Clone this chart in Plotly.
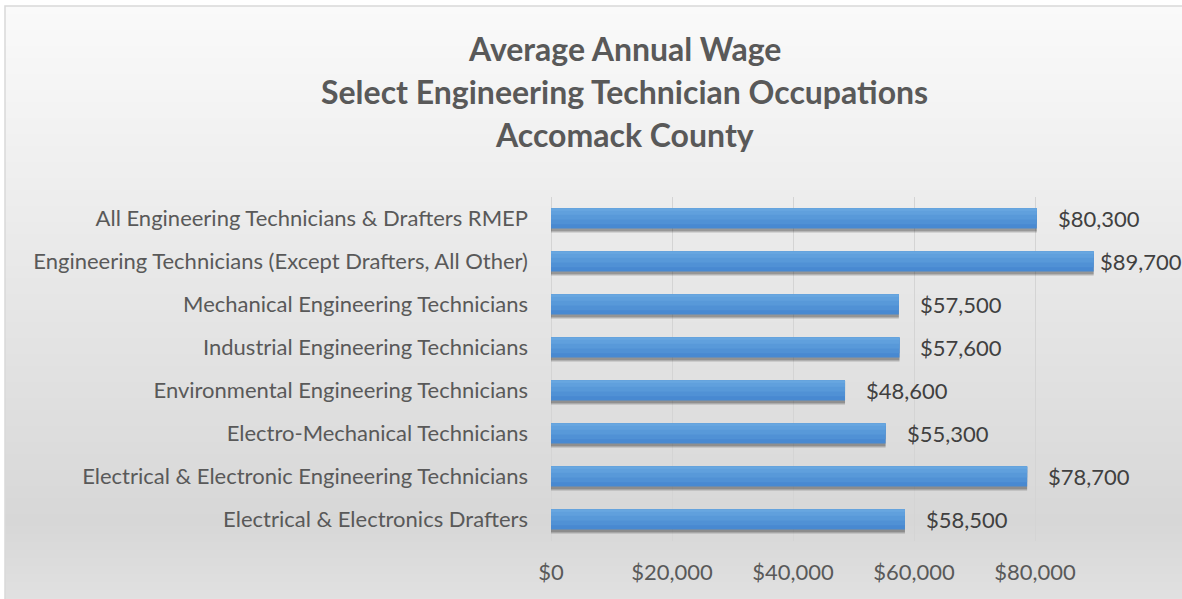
import plotly.graph_objects as go

# ---- data ----
categories = [
    "All Engineering Technicians & Drafters RMEP",
    "Engineering Technicians (Except Drafters, All Other)",
    "Mechanical Engineering Technicians",
    "Industrial Engineering Technicians",
    "Environmental Engineering Technicians",
    "Electro-Mechanical Technicians",
    "Electrical & Electronic Engineering Technicians",
    "Electrical & Electronics Drafters",
]
wages = [80300, 89700, 57500, 57600, 48600, 55300, 78700, 58500]
tick_values = [0, 20000, 40000, 60000, 80000]
tick_labels = ["$0", "$20,000", "$40,000", "$60,000", "$80,000"]
title_lines = [
    "Average Annual Wage",
    "Select Engineering Technician Occupations",
    "Accomack County",
]

# ---- layout geometry ----
W, H = 1182, 599
ML, MR, MT, MB = 551, 0, 197, 58
PW, PH = W - ML - MR, H - MT - MB
PX_PER_UNIT = 121 / 20000.0
X_MAX = PW / PX_PER_UNIT


def px_x(px):
    return (px - ML) / PW


def px_y(py):
    return (H - MB - py) / PH


FONT = "Lato"
BAR_W = 0.47

fig = go.Figure()

# soft shadow layers
for off, col in [(0.10, "rgba(0,0,0,0.10)"), (0.07, "rgba(0,0,0,0.28)")]:
    fig.add_trace(go.Bar(
        y=categories, x=wages, orientation="h",
        width=BAR_W, offset=-BAR_W / 2 + off,
        marker=dict(color=col, line=dict(width=0)),
        hoverinfo="skip", showlegend=False,
    ))

# bar with vertical gradient (stacked overlay layers)
for frac, col in [(1.0, "#4889d1"), (0.78, "#5091d5"), (0.55, "#5899d9"),
                  (0.32, "#60a0dd"), (0.12, "#68a7e0")]:
    fig.add_trace(go.Bar(
        y=categories, x=wages, orientation="h",
        width=BAR_W * frac, offset=-BAR_W / 2,
        marker=dict(color=col, line=dict(width=0)),
        hoverinfo="skip" if frac < 1 else None, showlegend=False,
    ))

# background gradient
shapes = []


def lerp(a, b, t):
    return int(round(a + (b - a) * t))


stops = [(6, 250), (520, 215), (599, 225)]
step = 4
py = 6
while py < H:
    if py <= stops[1][0]:
        t = (py - stops[0][0]) / (stops[1][0] - stops[0][0])
        g = lerp(stops[0][1], stops[1][1], t)
    else:
        t = (py - stops[1][0]) / (stops[2][0] - stops[1][0])
        g = lerp(stops[1][1], stops[2][1], t)
    shapes.append(dict(
        type="rect", xref="paper", yref="paper", layer="below",
        x0=px_x(5), x1=px_x(W + 5), y0=px_y(py + step + 0.5), y1=px_y(py),
        fillcolor=f"rgb({g},{g},{g})", line=dict(width=0),
    ))
    py += step
# border
shapes.append(dict(
    type="rect", xref="paper", yref="paper", layer="below",
    x0=px_x(5), x1=px_x(W + 20), y0=px_y(H + 20), y1=px_y(6),
    fillcolor="rgba(0,0,0,0)", line=dict(color="#d9d9d9", width=1.5),
))

annotations = []
for yy, txt in zip([49, 92, 135], title_lines):
    annotations.append(dict(
        text=f"<b>{txt}</b>", xref="paper", yref="paper",
        x=px_x(624), y=px_y(yy), xanchor="center", yanchor="middle",
        showarrow=False, font=dict(family=FONT, size=32, color="#595959"),
    ))

# value labels (pushed left when they would run past the chart edge)
LABEL_W = 80
for cat, v in zip(categories, wages):
    bar_end = ML + v * PX_PER_UNIT
    shift = min(19, (W - 4 - LABEL_W) - bar_end)
    annotations.append(dict(
        text=f"${v:,.0f}", x=v, y=cat, xref="x", yref="y",
        xanchor="left", yanchor="middle", xshift=shift, showarrow=False,
        font=dict(family=FONT, size=22, color="#404040"),
    ))

fig.update_layout(
    width=W, height=H,
    margin=dict(l=ML, r=MR, t=MT, b=MB, autoexpand=False),
    paper_bgcolor="white", plot_bgcolor="rgba(0,0,0,0)",
    barmode="overlay",
    shapes=shapes, annotations=annotations,
    font=dict(family=FONT, color="#595959"),
    xaxis=dict(
        range=[0, X_MAX],
        tickvals=tick_values, ticktext=tick_labels,
        showgrid=True, gridcolor="#d4d4d4", gridwidth=1,
        zeroline=True, zerolinecolor="#d4d4d4", zerolinewidth=1,
        showline=False, ticks="", ticklabelstandoff=16,
        tickfont=dict(family=FONT, size=22, color="#595959"),
    ),
    yaxis=dict(
        autorange="reversed", categoryorder="array", categoryarray=categories,
        showgrid=False, showline=False, zeroline=False, ticks="",
        ticklabelstandoff=22,
        tickfont=dict(family=FONT, size=22, color="#595959"),
    ),
)

fig.write_html(
    "out.html",
    config={"displayModeBar": False},
    post_script="document.body.style.margin='0';document.body.style.overflow='hidden';",
)
